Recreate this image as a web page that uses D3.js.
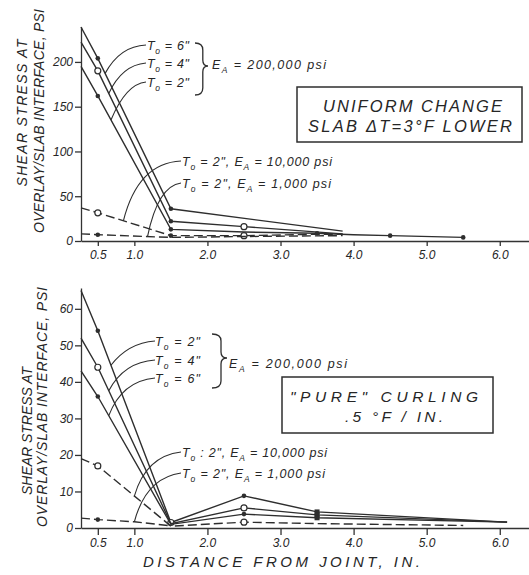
<!DOCTYPE html>
<html>
<head>
<meta charset="utf-8">
<script src="https://cdn.jsdelivr.net/npm/d3@7"></script>
<style>
  body { margin: 0; background: #fff; }
  text { font-family: "Liberation Sans", Arial, sans-serif; font-style: italic; fill: #262626; }
  .tick line, .domain { stroke: #333; stroke-width: 1.3; }
</style>
</head>
<body>
<svg id="chart" width="529" height="575"></svg>
<script>
const xTicks = [0.5, 1.0, 2.0, 3.0, 4.0, 5.0, 6.0];
const uniformYTicks = [0, 50, 100, 150, 200];
const curlingYTicks = [0, 10, 20, 30, 40, 50, 60];

// uniform change, slab dT = 3F lower  [distance in., shear psi]
const uniT6 = [[0.27, 239], [0.5, 204], [1.5, 36], [3.85, 11]];
const uniT4 = [[0.27, 222], [0.5, 190], [1.5, 22], [2.5, 16], [3.85, 8]];
const uniT2 = [[0.27, 195], [0.5, 162], [1.5, 13], [2.5, 10], [3.5, 8.6], [4.0, 7], [4.5, 6], [5.5, 4]];
const uniE10 = [[0.27, 37], [0.5, 31.5], [1.5, 6], [2.5, 6], [3.5, 7.5], [3.85, 7.5]];
const uniE1 = [[0.27, 8], [0.5, 7], [1.5, 4], [2.5, 5], [3.85, 6]];
const uniT6Marks = ['', 'dot', 'dot', ''];
const uniT4Marks = ['', 'circle', 'dot', 'circle', ''];
const uniT2Marks = ['', 'dot', 'dot', '', 'dot', '', 'dot', 'dot'];
const uniE10Marks = ['', 'circle', 'dot', 'circle', '', ''];
const uniE1Marks = ['', 'dot', '', '', ''];

// "pure" curling .5F / in.
const curT2 = [[0.27, 65], [0.5, 54], [1.5, 1.5], [2.5, 8.8], [3.5, 4.4], [6.1, 1.6]];
const curT4 = [[0.27, 52], [0.5, 44], [1.5, 1.2], [2.5, 5.5], [3.5, 3.6], [6.1, 1.6]];
const curT6 = [[0.27, 43], [0.5, 36], [1.5, 1.0], [2.5, 3.8], [3.5, 2.8], [6.1, 1.6]];
const curE10 = [[0.27, 19], [0.5, 17], [1.5, 0.5], [2.5, 1.6], [3.5, 1.2], [5.5, 0.7]];
const curE1 = [[0.27, 2.7], [0.5, 2.3], [1.0, 1.7], [1.5, 0.6]];
const curT2Marks = ['', 'dot', 'circle', 'dot', 'sq', ''];
const curT4Marks = ['', 'circle', '', 'circle', 'sq', ''];
const curT6Marks = ['', 'dot', '', 'dot', 'sq', ''];
const curE10Marks = ['', 'circle', '', 'circle', '', ''];
const curE1Marks = ['', 'dot', '', ''];

const svg = d3.select('#chart');
const ink = '#2e2e2e';

function interp(series, xv) {
  for (let i = 1; i < series.length; i++) {
    const [x0, y0] = series[i - 1], [x1, y1] = series[i];
    if (xv >= x0 && xv <= x1) return y0 + (y1 - y0) * (xv - x0) / (x1 - x0);
  }
  return series[series.length - 1][1];
}

// text with subscripts: parts = [[str, isSub], ...]
function label(g, x, y, parts, size, len) {
  const t = g.append('text').attr('x', x).attr('y', y).attr('font-size', size);
  let down = false;
  parts.forEach(([s, isSub]) => {
    const sp = t.append('tspan').text(s);
    if (isSub && !down) { sp.attr('dy', size * 0.3).attr('font-size', size * 0.68); down = true; }
    else if (!isSub && down) { sp.attr('dy', -size * 0.3); down = false; }
  });
  if (len) t.attr('textLength', len).attr('lengthAdjust', 'spacing');
  return t;
}

function brace(g, x, top, bot, w) {
  const mid = (top + bot) / 2 - 3;
  const p = d3.path();
  p.moveTo(x, top);
  p.quadraticCurveTo(x + w * 0.6, top, x + w * 0.6, top + 7);
  p.lineTo(x + w * 0.6, mid - 6);
  p.quadraticCurveTo(x + w * 0.6, mid, x + w, mid);
  p.quadraticCurveTo(x + w * 0.6, mid, x + w * 0.6, mid + 6);
  p.lineTo(x + w * 0.6, bot - 7);
  p.quadraticCurveTo(x + w * 0.6, bot, x, bot);
  g.append('path').attr('d', p.toString()).attr('fill', 'none').attr('stroke', ink).attr('stroke-width', 1.3);
}

function panel(cfg) {
  const x = d3.scaleLinear().domain([0.27, 6.4]).range([81, 529]);
  const y = d3.scaleLinear().domain([0, cfg.yMax]).range([cfg.y0, cfg.yTop]);
  const g = svg.append('g');

  g.append('g')
    .attr('transform', `translate(0,${cfg.y0})`)
    .call(d3.axisBottom(x).tickValues(xTicks).tickFormat(d3.format('.1f')).tickSize(cfg.xTick).tickSizeOuter(0).tickPadding(cfg.xPad));
  g.append('g')
    .attr('transform', `translate(${x(0.27)},0)`)
    .call(d3.axisLeft(y).tickValues(cfg.yTicks).tickSize(6).tickSizeOuter(0).tickPadding(2));
  g.selectAll('.tick text').attr('font-size', 12).attr('fill', '#262626');

  const line = d3.line().x(d => x(d[0])).y(d => y(d[1]));
  cfg.series.forEach(s => {
    g.append('path').datum(s.data)
      .attr('d', line)
      .attr('fill', 'none')
      .attr('stroke', ink)
      .attr('stroke-width', 1.4)
      .attr('stroke-dasharray', s.dashed ? '9,4' : null);
    s.data.forEach((d, i) => {
      const m = s.marks[i];
      if (m === 'dot') g.append('circle').attr('cx', x(d[0])).attr('cy', y(d[1])).attr('r', 2.3).attr('fill', ink);
      if (m === 'circle') g.append('circle').attr('cx', x(d[0])).attr('cy', y(d[1])).attr('r', 3).attr('fill', '#fff').attr('stroke', ink).attr('stroke-width', 1.2);
      if (m === 'sq') g.append('rect').attr('x', x(d[0]) - 2.5).attr('y', y(d[1]) - 2.5).attr('width', 5).attr('height', 5).attr('fill', ink);
    });
  });

  // leader lines from notes to curves
  cfg.leaders.forEach(l => {
    const ex = x(l.at), ey = y(interp(l.series, l.at));
    const p = d3.path();
    p.moveTo(l.from[0], l.from[1]);
    p.quadraticCurveTo(l.ctrl[0], l.ctrl[1], ex, ey);
    g.append('path').attr('d', p.toString()).attr('fill', 'none').attr('stroke', ink).attr('stroke-width', 1.1);
  });

  // y title, two rotated lines
  const mid = cfg.titleMid;
  g.append('text').attr('transform', `translate(${cfg.t1x},${mid[0]}) rotate(-90)`)
    .attr('text-anchor', 'middle').attr('font-size', 14).attr('textLength', cfg.t1len).attr('lengthAdjust', 'spacing')
    .text('SHEAR STRESS AT');
  g.append('text').attr('transform', `translate(${cfg.t2x},${mid[1]}) rotate(-90)`)
    .attr('text-anchor', 'middle').attr('font-size', 14).attr('textLength', cfg.t2len).attr('lengthAdjust', 'spacing')
    .text('OVERLAY/SLAB INTERFACE, PSI');

  return { g, x, y };
}

// ---------- top panel ----------
const topPanel = panel({
  y0: 241, yTop: 27, yMax: 239, yTicks: uniformYTicks, xTick: 5, xPad: 4,
  t1x: 27, t2x: 44, titleMid: [113, 121], t1len: 147, t2len: 224,
  series: [
    { data: uniT6, marks: uniT6Marks },
    { data: uniT4, marks: uniT4Marks },
    { data: uniT2, marks: uniT2Marks },
    { data: uniE10, marks: uniE10Marks, dashed: true },
    { data: uniE1, marks: uniE1Marks, dashed: true }
  ],
  leaders: [
    { series: uniT6, at: 0.6, from: [146, 45], ctrl: [120, 46] },
    { series: uniT4, at: 0.65, from: [146, 63], ctrl: [122, 65] },
    { series: uniT2, at: 0.68, from: [146, 82], ctrl: [126, 84] },
    { series: uniE10, at: 0.85, from: [181, 161], ctrl: [138, 163] },
    { series: uniE1, at: 1.18, from: [181, 183], ctrl: [158, 186] }
  ]
});
label(topPanel.g, 147, 50, [['T'], ['o', 1], [' = 6"']], 12.5, 42);
label(topPanel.g, 147, 68, [['T'], ['o', 1], [' = 4"']], 12.5, 42);
label(topPanel.g, 147, 87, [['T'], ['o', 1], [' = 2"']], 12.5, 42);
brace(topPanel.g, 195, 43, 95, 13);
label(topPanel.g, 212, 69, [['E'], ['A', 1], [' = 200,000 psi']], 12.5, 114);
label(topPanel.g, 182, 166, [['T'], ['o', 1], [' = 2", E'], ['A', 1], [' = 10,000 psi']], 12.5, 150);
label(topPanel.g, 182, 188, [['T'], ['o', 1], [' = 2", E'], ['A', 1], [' = 1,000 psi']], 12.5, 149);
topPanel.g.append('rect').attr('x', 297).attr('y', 87).attr('width', 225).attr('height', 55)
  .attr('fill', 'none').attr('stroke', ink).attr('stroke-width', 1.5);
topPanel.g.append('text').attr('x', 323).attr('y', 112).attr('font-size', 16.5)
  .attr('textLength', 179).attr('lengthAdjust', 'spacing').text('UNIFORM  CHANGE');
topPanel.g.append('text').attr('x', 308).attr('y', 132).attr('font-size', 16.5)
  .attr('textLength', 204).attr('lengthAdjust', 'spacing').text('SLAB  ΔT=3°F  LOWER');

// ---------- bottom panel ----------
const botPanel = panel({
  y0: 528, yTop: 288, yMax: 65.7, yTicks: curlingYTicks, xTick: 7, xPad: 3,
  t1x: 32, t2x: 47, titleMid: [431, 407], t1len: 128, t2len: 240,
  series: [
    { data: curT2, marks: curT2Marks },
    { data: curT4, marks: curT4Marks },
    { data: curT6, marks: curT6Marks },
    { data: curE10, marks: curE10Marks, dashed: true },
    { data: curE1, marks: curE1Marks, dashed: true }
  ],
  leaders: [
    { series: curT2, at: 0.68, from: [155, 341], ctrl: [128, 343] },
    { series: curT4, at: 0.65, from: [155, 360], ctrl: [124, 362] },
    { series: curT6, at: 0.65, from: [155, 378], ctrl: [122, 381] },
    { series: curE10, at: 1.0, from: [181, 452], ctrl: [146, 456] },
    { series: curE1, at: 1.0, from: [181, 473], ctrl: [146, 478] }
  ]
});
label(botPanel.g, 155, 346, [['T'], ['o', 1], [' = 2"']], 12.5, 45);
label(botPanel.g, 155, 365, [['T'], ['o', 1], [' = 4"']], 12.5, 45);
label(botPanel.g, 155, 383, [['T'], ['o', 1], [' = 6"']], 12.5, 45);
brace(botPanel.g, 212, 334, 388, 15);
label(botPanel.g, 229, 368, [['E'], ['A', 1], [' = 200,000 psi']], 12.5, 118);
label(botPanel.g, 182, 457, [['T'], ['o', 1], [' : 2", E'], ['A', 1], [' = 10,000 psi']], 12.5, 145);
label(botPanel.g, 182, 478, [['T'], ['o', 1], [' = 2", E'], ['A', 1], [' = 1,000 psi']], 12.5, 143);
botPanel.g.append('rect').attr('x', 282).attr('y', 377).attr('width', 211).attr('height', 56)
  .attr('fill', 'none').attr('stroke', ink).attr('stroke-width', 1.5);
botPanel.g.append('text').attr('x', 290).attr('y', 402).attr('font-size', 15.5)
  .attr('textLength', 188).attr('lengthAdjust', 'spacing').text('"PURE"  CURLING');
botPanel.g.append('text').attr('x', 345).attr('y', 422).attr('font-size', 15.5)
  .attr('textLength', 98).attr('lengthAdjust', 'spacing').text('.5 °F / IN.');

svg.append('text').attr('x', 143).attr('y', 567).attr('font-size', 15)
  .attr('textLength', 277).attr('lengthAdjust', 'spacing').text('DISTANCE  FROM  JOINT, IN.');
</script>
</body>
</html>
